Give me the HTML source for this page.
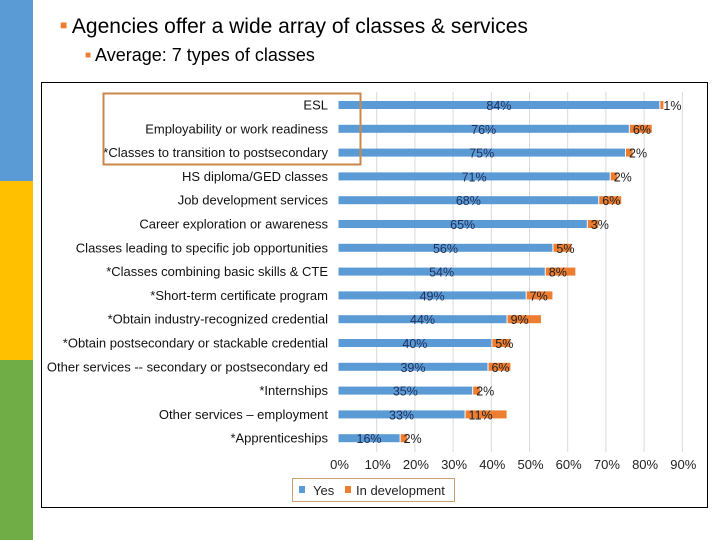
<!DOCTYPE html>
<html><head><meta charset="utf-8"><style>
body{margin:0;width:720px;height:540px;overflow:hidden;background:#fff;font-family:"Liberation Sans",sans-serif;position:relative}
.abs{position:absolute}
</style></head><body>
<div class="abs" style="left:0;top:0;width:33px;height:181px;background:#5b9bd5"></div>
<div class="abs" style="left:0;top:181px;width:33px;height:179px;background:#ffc000"></div>
<div class="abs" style="left:0;top:360px;width:33px;height:180px;background:#70ad47"></div>
<div class="abs" style="left:60px;top:15px;font-size:21px;color:#000;white-space:nowrap"><span style="color:#ed7d31;font-size:12px;vertical-align:4px">■</span> Agencies offer a wide array of classes &amp; services</div>
<div class="abs" style="left:85px;top:45px;font-size:18px;color:#000;white-space:nowrap"><span style="color:#ed7d31;font-size:10px;vertical-align:3px">■</span> Average: 7 types of classes</div>
<svg class="abs" style="left:0;top:0" width="720" height="540">
<rect x="41.5" y="82.5" width="666" height="425" fill="#fff" stroke="#000" stroke-width="1"/>
<g id="grid"></g><g id="bars"></g><g id="labels"></g><g id="ticks"></g>
<rect x="103.5" y="93.5" width="257" height="71" fill="none" stroke="#c8884a" stroke-width="2"/>
<rect x="292.5" y="478.5" width="162" height="23" fill="#fff" stroke="#c8a070"/>
<rect x="299" y="486" width="6" height="7" fill="#5b9bd5"/>
<text x="313" y="495" font-size="13" fill="#222">Yes</text>
<rect x="345" y="486" width="6" height="7" fill="#ed7d31"/>
<text x="356" y="495" font-size="13" fill="#222">In development</text>
</svg>
<script>
const categories=["ESL","Employability or work readiness","*Classes to transition to postsecondary","HS diploma/GED  classes","Job development services","Career exploration or awareness","Classes leading to specific job opportunities","*Classes combining basic skills & CTE","*Short-term certificate program","*Obtain industry-recognized credential","*Obtain postsecondary or stackable credential","Other services -- secondary or postsecondary ed","*Internships","Other services \u2013 employment","*Apprenticeships"];
const yesValues=[84,76,75,71,68,65,56,54,49,44,40,39,35,33,16];
const devValues=[1,6,2,2,6,3,5,8,7,9,5,6,2,11,2];
const tickValues=[0,10,20,30,40,50,60,70,80,90];
const NS="http://www.w3.org/2000/svg";
const x=v=>338.5+v*3.82;
const y=i=>105+i*23.8;
function mk(g,t,a,txt){const e=document.createElementNS(NS,t);for(const k in a)e.setAttribute(k,a[k]);if(txt!==undefined)e.textContent=txt;document.getElementById(g).appendChild(e);return e;}
tickValues.forEach(t=>{
 if(t>0){const l=mk('grid','line',{x1:x(t),x2:x(t),y1:92,y2:452,stroke:'#d9d9d9'});
 
 }
 const tx=mk('ticks','text',{x:x(t)+1,y:469,'font-size':13,'text-anchor':'middle',fill:'#222'},t+'%');
 
 
});
categories.forEach((c,i)=>{
 const cy=y(i);
 const lab=mk('labels','text',{x:328,y:cy+4.5,'font-size':13,'text-anchor':'end',fill:'#111'},c);
 
 
 const b=mk('bars','rect',{x:x(0),y:cy-4,width:x(yesValues[i])-x(0),height:8,fill:'#5b9bd5'});
 
 
 const d=mk('bars','rect',{x:x(yesValues[i])+1,y:cy-4,width:Math.max(devValues[i]*3.82-1,3),height:8,fill:'#ed7d31'});
 
 
 const yl=mk('labels','text',{x:(x(0)+x(yesValues[i]))/2,y:cy+5,'font-size':12.5,'text-anchor':'middle',fill:'#1f2f5a'},yesValues[i]+'%');
 
 
 const dl=mk('labels','text',{x:x(yesValues[i])+4,y:cy+5,'font-size':12.5,fill:'#222'},devValues[i]+'%');
 
 
});
</script>
</body></html>
